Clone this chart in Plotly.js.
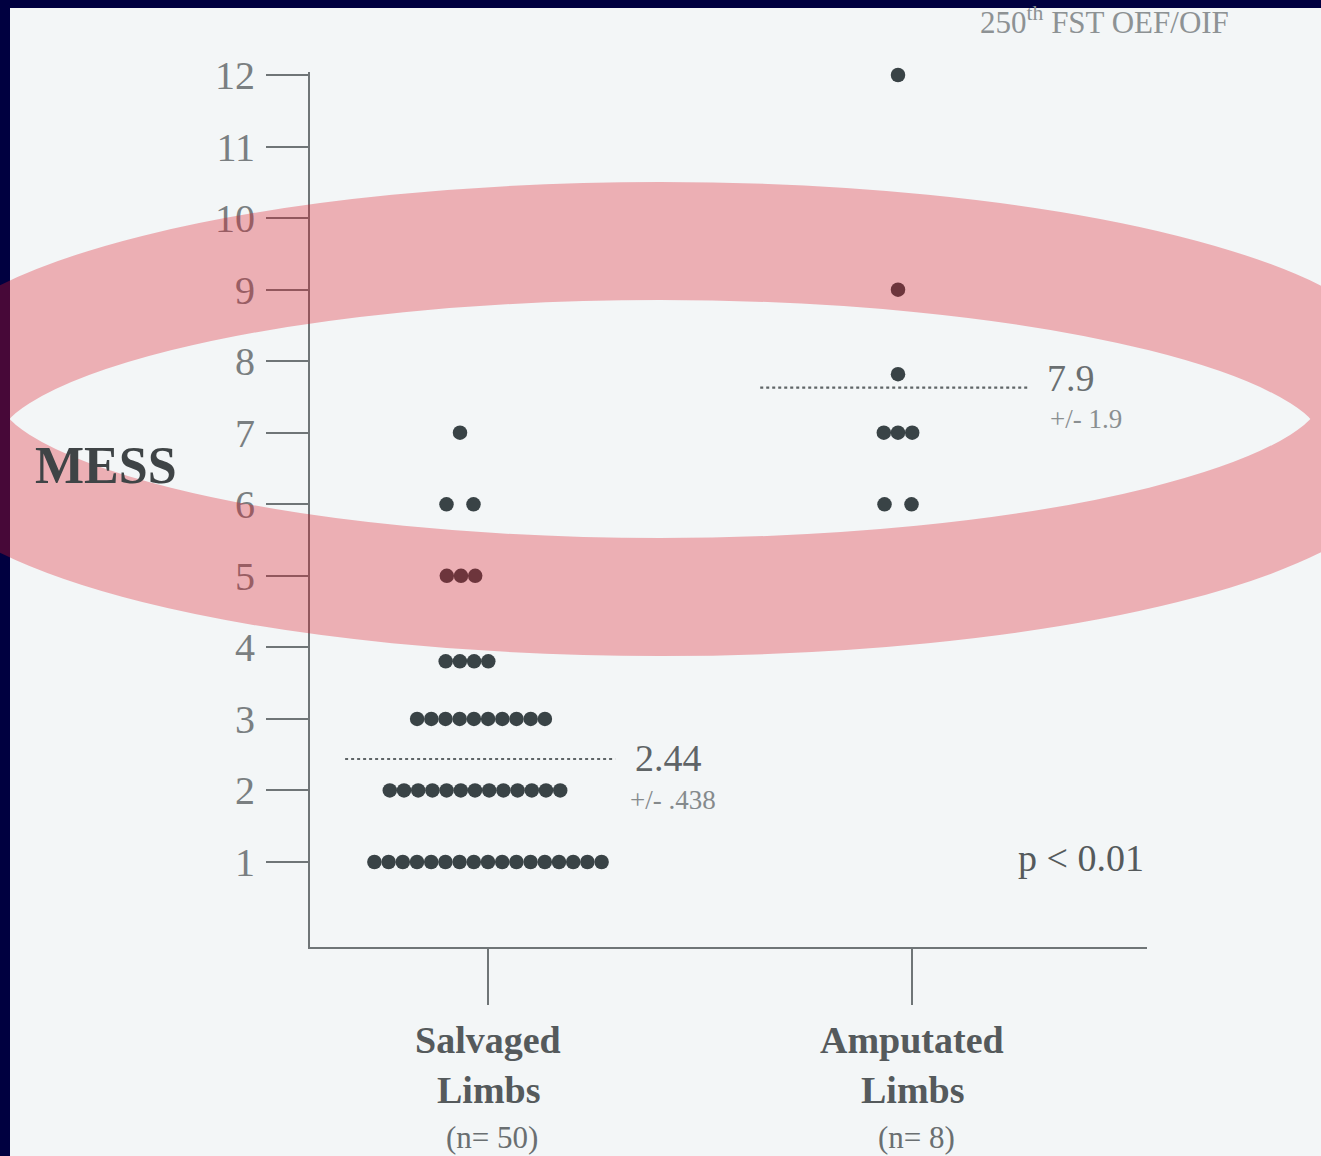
<!DOCTYPE html>
<html>
<head>
<meta charset="utf-8">
<script src="https://cdn.plot.ly/plotly-3.0.1.min.js"></script>
<style>html,body{margin:0;padding:0;background:#f3f6f7;}#chart{width:1321px;height:1156px;}</style>
</head>
<body>
<div id="chart"></div>
<script>
// ---------- data ----------
const categories = ['Salvaged', 'Amputated'];
const categoryLine2 = ['Limbs', 'Limbs'];
const groupN = ['(n= 50)', '(n= 8)'];
const salvagedScores = [1, 2, 3, 4, 5, 6, 7];
const salvagedCounts = [17, 13, 10, 4, 3, 2, 1];
const amputatedScores = [6, 7, 8, 9, 12];
const amputatedCounts = [2, 3, 1, 1, 1];
const meanLabels = ['2.44', '7.9'];
const sdLabels = ['+/- .438', '+/- 1.9'];
const meanLineLevel = [2.44, 7.63];
const yTickVals = [1, 2, 3, 4, 5, 6, 7, 8, 9, 10, 11, 12];
const pLabel = 'p < 0.01';
const sourceLabel = '250<sup>th</sup> FST OEF/OIF';
const yLabel = 'MESS';

// ---------- layout geometry ----------
const W = 1321, H = 1156;
const L = 310, R = 1147, T = 72, B = 947;
const xRange = [0.5802, 2.5542];
const yRange = [-0.188, 12.042];
const pxPerX = (R - L) / (xRange[1] - xRange[0]);
const pxPerY = (B - T) / (yRange[1] - yRange[0]);
const pxToPaperX = p => (p - L) / (R - L);
const pxToPaperY = p => (B - p) / (B - T);

// small hand-drawn offsets of each row (pixels) as they appear in the figure
const salvagedShift = {1: 0, 2: -13, 3: -7, 4: -21, 5: -27, 6: -28, 7: -28};
const salvagedDrop = {4: 14};
const amputatedShift = -14;
const amputatedDrop = {8: 13};

function dotRows(center, scores, counts, shiftFn, dropFn) {
  const xs = [], ys = [];
  scores.forEach((s, k) => {
    const n = counts[k];
    const sp = (n === 2 ? 27 : 14.2) / pxPerX;
    const c = center + shiftFn(s) / pxPerX;
    const yy = s - dropFn(s) / pxPerY;
    for (let i = 0; i < n; i++) {
      xs.push(c + (i - (n - 1) / 2) * sp);
      ys.push(yy);
    }
  });
  return {xs, ys};
}

const sv = dotRows(1, salvagedScores, salvagedCounts, s => salvagedShift[s] || 0, s => salvagedDrop[s] || 0);
const am = dotRows(2, amputatedScores, amputatedCounts, s => amputatedShift, s => amputatedDrop[s] || 0);

const dotColor = '#394346';
const traces = [
  {x: sv.xs, y: sv.ys, type: 'scatter', mode: 'markers', cliponaxis: false,
   marker: {size: 14.5, color: dotColor}, hoverinfo: 'skip'},
  {x: am.xs, y: am.ys, type: 'scatter', mode: 'markers', cliponaxis: false,
   marker: {size: 14.5, color: dotColor}, hoverinfo: 'skip'},
  {x: [0.663, 1.30], y: [meanLineLevel[0], meanLineLevel[0]], type: 'scatter', mode: 'lines',
   line: {color: '#5f6567', width: 2.2, dash: 'dot'}, hoverinfo: 'skip'},
  {x: [1.642, 2.278], y: [meanLineLevel[1], meanLineLevel[1]], type: 'scatter', mode: 'lines',
   line: {color: '#5f6567', width: 2.2, dash: 'dot'}, hoverinfo: 'skip'}
];

const serif = 'Liberation Serif, Times New Roman, serif';
const ann = [];
// category labels
[1, 2].forEach((cx, i) => {
  ann.push({x: cx, xref: 'x', y: pxToPaperY(1040), yref: 'paper', text: '<b>' + categories[i] + '</b>',
    showarrow: false, xanchor: 'center', yanchor: 'middle', font: {family: serif, size: 38, color: '#555a5c'}});
  ann.push({x: cx, xref: 'x', y: pxToPaperY(1090), yref: 'paper', text: '<b>' + categoryLine2[i] + '</b>',
    showarrow: false, xanchor: 'center', yanchor: 'middle', font: {family: serif, size: 38, color: '#555a5c'}});
  ann.push({x: cx + 4 / pxPerX, xref: 'x', y: pxToPaperY(1137), yref: 'paper', text: groupN[i],
    showarrow: false, xanchor: 'center', yanchor: 'middle', font: {family: serif, size: 31, color: '#6a6f71'}});
});
// mean labels
ann.push({x: pxToPaperX(633), xref: 'paper', y: pxToPaperY(758), yref: 'paper', text: meanLabels[0],
  showarrow: false, xanchor: 'left', yanchor: 'middle', font: {family: serif, size: 38, color: '#5f6466'}});
ann.push({x: pxToPaperX(628), xref: 'paper', y: pxToPaperY(800), yref: 'paper', text: sdLabels[0],
  showarrow: false, xanchor: 'left', yanchor: 'middle', font: {family: serif, size: 27, color: '#858a8c'}});
ann.push({x: pxToPaperX(1045), xref: 'paper', y: pxToPaperY(378), yref: 'paper', text: meanLabels[1],
  showarrow: false, xanchor: 'left', yanchor: 'middle', font: {family: serif, size: 38, color: '#6a6f71'}});
ann.push({x: pxToPaperX(1048), xref: 'paper', y: pxToPaperY(419), yref: 'paper', text: sdLabels[1],
  showarrow: false, xanchor: 'left', yanchor: 'middle', font: {family: serif, size: 27, color: '#8a8f91'}});
// p value
ann.push({x: pxToPaperX(1146), xref: 'paper', y: pxToPaperY(858), yref: 'paper', text: pLabel,
  showarrow: false, xanchor: 'right', yanchor: 'middle', font: {family: serif, size: 38, color: '#555a5c'}});
// axis label
ann.push({x: pxToPaperX(33), xref: 'paper', y: pxToPaperY(465), yref: 'paper', text: '<b>' + yLabel + '</b>',
  showarrow: false, xanchor: 'left', yanchor: 'middle', font: {family: serif, size: 52, color: '#3f4446'}});
// source
ann.push({x: pxToPaperX(1231), xref: 'paper', y: pxToPaperY(20), yref: 'paper', text: sourceLabel,
  showarrow: false, xanchor: 'right', yanchor: 'middle', font: {family: serif, size: 31, color: '#8d9294'}});

const shapes = [
  // slide border (top & left)
  {type: 'rect', xref: 'paper', yref: 'paper', x0: pxToPaperX(-5), x1: pxToPaperX(W + 5),
   y0: pxToPaperY(8), y1: pxToPaperY(-5), fillcolor: '#000040', line: {width: 0}, layer: 'below'},
  {type: 'rect', xref: 'paper', yref: 'paper', x0: pxToPaperX(-5), x1: pxToPaperX(10),
   y0: pxToPaperY(H + 5), y1: pxToPaperY(-5), fillcolor: '#000040', line: {width: 0}, layer: 'below'},
  // highlight ellipse
  {type: 'circle', xref: 'paper', yref: 'paper',
   x0: pxToPaperX(660 - 712), x1: pxToPaperX(660 + 712),
   y0: pxToPaperY(419 + 178), y1: pxToPaperY(419 - 178),
   line: {color: 'rgba(220,25,40,0.32)', width: 118}, fillcolor: 'rgba(0,0,0,0)', layer: 'above'}
];

const layout = {
  width: W, height: H,
  margin: {l: L, r: W - R, t: T, b: H - B, pad: 0},
  paper_bgcolor: '#f3f6f7', plot_bgcolor: '#f3f6f7',
  showlegend: false,
  xaxis: {range: xRange, showgrid: false, zeroline: false, showline: true, linecolor: '#6f7577', linewidth: 2,
    tickmode: 'array', tickvals: [1, 2], ticks: 'outside', ticklen: 56, tickwidth: 2, tickcolor: '#6f7577',
    showticklabels: false, fixedrange: true},
  yaxis: {range: yRange, showgrid: false, zeroline: false, showline: true, linecolor: '#6f7577', linewidth: 2,
    tickmode: 'array', tickvals: yTickVals, ticktext: yTickVals.map(String), ticks: 'outside', ticklen: 42,
    tickwidth: 2, tickcolor: '#6f7577', ticklabelstandoff: 3,
    tickfont: {family: serif, size: 40, color: '#7a7f81'}, fixedrange: true},
  annotations: ann,
  shapes: shapes
};

Plotly.newPlot('chart', traces, layout, {displayModeBar: false, staticPlot: true});
</script>
</body>
</html>
